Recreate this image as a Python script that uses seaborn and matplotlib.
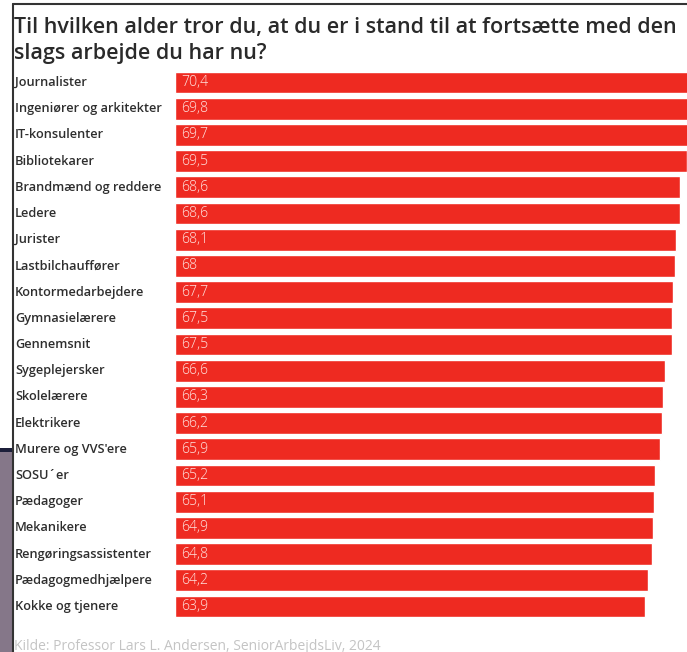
import matplotlib
matplotlib.use('Agg')
import matplotlib.pyplot as plt
import matplotlib.transforms as mtransforms
from matplotlib.patches import Rectangle
from matplotlib.lines import Line2D
import seaborn as sns
import pandas as pd

# ---- data ----
categories = [
    "Journalister", "Ingeniører og arkitekter", "IT-konsulenter", "Bibliotekarer",
    "Brandmænd og reddere", "Ledere", "Jurister", "Lastbilchauffører",
    "Kontormedarbejdere", "Gymnasielærere", "Gennemsnit", "Sygeplejersker",
    "Skolelærere", "Elektrikere", "Murere og VVS'ere", "SOSU´er", "Pædagoger",
    "Mekanikere", "Rengøringsassistenter", "Pædagogmedhjælpere", "Kokke og tjenere",
]
values = [70.4, 69.8, 69.7, 69.5, 68.6, 68.6, 68.1, 68.0, 67.7, 67.5, 67.5,
          66.6, 66.3, 66.2, 65.9, 65.2, 65.1, 64.9, 64.8, 64.2, 63.9]
title_lines = ["Til hvilken alder tror du, at du er i stand til at fortsætte med den",
               "slags arbejde du har nu?"]
source_text = "Kilde: Professor Lars L. Andersen, SeniorArbejdsLiv, 2024"

W, H = 687, 652
BAR_COLOR = "#EE2A21"

sns.set_theme(style="white")
plt.rcParams['font.family'] = ['Open Sans', 'DejaVu Sans']

fig = plt.figure(figsize=(W / 100, H / 100), dpi=100)
fig.patch.set_facecolor("white")

ax_left, ax_top, ax_bottom = 175, 69.4, 619.6
ax = fig.add_axes([ax_left / W, 1 - ax_bottom / H, 1 - ax_left / W, (ax_bottom - ax_top) / H])

df = pd.DataFrame({"category": categories, "value": values})
sns.barplot(data=df, x="value", y="category", color=BAR_COLOR, saturation=1,
            width=0.83, orient="h", ax=ax)
ax.set_xlim(0, (W - ax_left) / 7.36)
ax.set_ylim(len(categories) - 0.5, -0.5)
ax.set_axis_off()

trans_lab = mtransforms.blended_transform_factory(fig.transFigure, ax.transData)

# category labels
lab_texts = []
for i, c in enumerate(categories):
    t = ax.text(15 / W, i, c, transform=trans_lab, ha="left", va="center",
                fontsize=8, color="#2e2e2e", fontweight="semibold", clip_on=False)
    lab_texts.append(t)

# value labels
val_texts = []
for i, v in enumerate(values):
    s = (f"{v:.1f}".replace(".", ",") if v != int(v) else f"{int(v)}")
    t = ax.text(181 / W, i, s, transform=trans_lab, ha="left", va="center",
                fontsize=7.5, color="#ffe4e0", fontweight="light", clip_on=False)
    val_texts.append(t)

# title
t1 = fig.text(14 / W, 1 - 28 / H, title_lines[0], ha="left", va="center",
              fontsize=13, fontweight="semibold", color="#2a2a2a")
t2 = fig.text(14 / W, 1 - 54 / H, title_lines[1], ha="left", va="center",
              fontsize=13, fontweight="semibold", color="#2a2a2a")

# source
ts = fig.text(14 / W, 1 - 646 / H, source_text, ha="left", va="center",
              fontsize=8, color="#c4c4c4")

# fit font sizes to measured widths in the reference
fig.canvas.draw()
r = fig.canvas.get_renderer()
def fit(texts, ref, target):
    w = ref.get_window_extent(r).width
    fs = ref.get_fontsize() * target / w
    for t in texts:
        t.set_fontsize(fs)
fit([t1, t2], t1, 663)
fit(lab_texts, lab_texts[1], 147)
fit(val_texts, val_texts[0], 27)
fit([ts], ts, 368)

# screenshot frame decorations
fig.add_artist(Line2D([13 / W, 1], [1 - 4 / H, 1 - 4 / H], color="#333333", lw=1.5))
fig.add_artist(Line2D([13 / W, 13 / W], [0, 1 - 4 / H], color="#333333", lw=1.5))
fig.add_artist(Rectangle((0, 0), 12 / W, (H - 452) / H, transform=fig.transFigure,
                         facecolor="#857789", edgecolor="none"))
fig.add_artist(Rectangle((0, (H - 452) / H), 12 / W, 4 / H, transform=fig.transFigure,
                         facecolor="#1c1f3a", edgecolor="none"))

fig.savefig("out.png", dpi=100)
